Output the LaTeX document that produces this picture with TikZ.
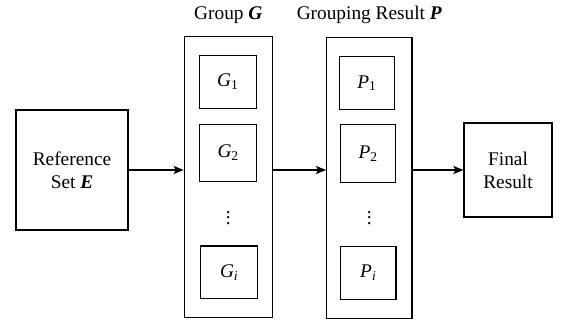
\documentclass[tikz,border=0pt]{standalone}
\usepackage{fontspec}
\setmainfont{Liberation Serif}
\usepackage{tikz}
\usetikzlibrary{arrows.meta}

\newcommand{\bi}[1]{\textbf{\textit{#1}}}

\begin{document}
\begin{tikzpicture}[x=0.75pt,y=-0.75pt,>={Stealth[length=7.5pt,width=6pt,inset=1.5pt]},line width=0.9pt,
  font=\fontsize{14.5}{17.25}\selectfont,
  blk/.style={draw,align=center,inner sep=0pt},
  sub/.style={draw,inner sep=0pt,minimum width=42.5pt,minimum height=39.5pt}]
\useasboundingbox (0,0) rectangle (566,323);

\node[blk,minimum width=84pt,minimum height=90pt] (ref) at (72,170) {Reference\\Set \bi{E}};

\node[blk,minimum width=66pt,minimum height=210.5pt] (grp) at (228.3,177) {};
\node[blk,minimum width=64pt,minimum height=210.75pt] (res) at (369.3,177.8) {};

\node[blk,minimum width=66pt,minimum height=70.5pt] (fin) at (508,170) {Final\\Result};

% titles
\node[anchor=base] (tgrp) at (228.3,20) {Group \bi{G}};
\node[anchor=base] (tres) at (369.3,20) {Grouping Result \bi{P}};

% groups
\node[sub] (g1) at (227.8,81.8) {\textit{G}\textsubscript{1}};
\node[sub,minimum height=43pt] (g2) at (228.2,152.8) {\textit{G}\textsubscript{2}};
\node (gd) at (228.3,214) {$\vdots$};
\node[sub] (gi) at (229.2,272.3) {\textit{G}\textsubscript{\textit{i}}};

% results
\node[sub,minimum width=41pt] (p1) at (367,83.2) {\textit{P}\textsubscript{1}};
\node[sub,minimum width=41pt,minimum height=43.5pt] (p2) at (368.2,153.3) {\textit{P}\textsubscript{2}};
\node (pd) at (369.3,214) {$\vdots$};
\node[sub,minimum width=41.5pt] (pi) at (368.3,272.8) {\textit{P}\textsubscript{\textit{i}}};

% arrows
\draw[->] (ref) -- (ref -| grp.west);
\draw[->] (grp.east |- ref) -- (ref -| res.west);
\draw[->] (res.east |- fin) -- (fin);

\end{tikzpicture}
\end{document}
